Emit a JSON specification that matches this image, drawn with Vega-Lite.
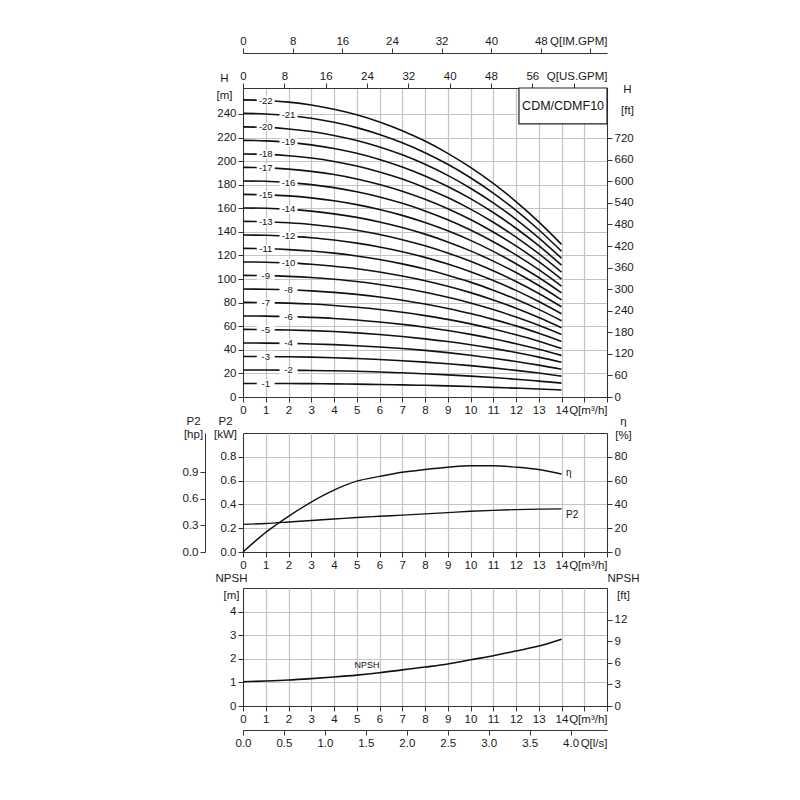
{
  "$schema": "https://vega.github.io/schema/vega-lite/v6.json",
  "padding": {"left": 181, "top": 34, "right": 5, "bottom": 5},
  "background": "white",
  "datasets": {
    "curves": [
      {"Q":0,"s1":11.5,"s2":22.9,"s3":34.4,"s4":45.8,"s5":57.3,"s6":68.7,"s7":80.2,"s8":91.6,"s9":103.1,"s10":114.5,"s11":126.0,"s12":137.4,"s13":148.9,"s14":160.3,"s15":171.8,"s16":183.2,"s17":194.7,"s18":206.1,"s19":217.6,"s20":229.0,"s21":240.5,"s22":251.9},
      {"Q":1,"s1":11.4,"s2":22.9,"s3":34.3,"s4":45.7,"s5":57.1,"s6":68.6,"s7":80.0,"s8":91.4,"s9":102.9,"s10":114.3,"s11":125.7,"s12":137.1,"s13":148.6,"s14":160.0,"s15":171.4,"s16":182.9,"s17":194.3,"s18":205.7,"s19":217.2,"s20":228.6,"s21":240.0,"s22":251.4},
      {"Q":2,"s1":11.4,"s2":22.7,"s3":34.1,"s4":45.5,"s5":56.8,"s6":68.2,"s7":79.6,"s8":90.9,"s9":102.3,"s10":113.7,"s11":125.0,"s12":136.4,"s13":147.7,"s14":159.1,"s15":170.5,"s16":181.8,"s17":193.2,"s18":204.6,"s19":215.9,"s20":227.3,"s21":238.7,"s22":250.0},
      {"Q":3,"s1":11.3,"s2":22.5,"s3":33.8,"s4":45.0,"s5":56.3,"s6":67.5,"s7":78.8,"s8":90.0,"s9":101.3,"s10":112.5,"s11":123.8,"s12":135.0,"s13":146.3,"s14":157.6,"s15":168.8,"s16":180.1,"s17":191.3,"s18":202.6,"s19":213.8,"s20":225.1,"s21":236.3,"s22":247.6},
      {"Q":4,"s1":11.1,"s2":22.2,"s3":33.3,"s4":44.4,"s5":55.5,"s6":66.6,"s7":77.6,"s8":88.7,"s9":99.8,"s10":110.9,"s11":122.0,"s12":133.1,"s13":144.2,"s14":155.3,"s15":166.4,"s16":177.5,"s17":188.6,"s18":199.7,"s19":210.7,"s20":221.8,"s21":232.9,"s22":244.0},
      {"Q":5,"s1":10.9,"s2":21.8,"s3":32.6,"s4":43.5,"s5":54.4,"s6":65.3,"s7":76.1,"s8":87.0,"s9":97.9,"s10":108.8,"s11":119.6,"s12":130.5,"s13":141.4,"s14":152.3,"s15":163.1,"s16":174.0,"s17":184.9,"s18":195.8,"s19":206.6,"s20":217.5,"s21":228.4,"s22":239.3},
      {"Q":6,"s1":10.6,"s2":21.2,"s3":31.8,"s4":42.4,"s5":53.0,"s6":63.6,"s7":74.2,"s8":84.8,"s9":95.4,"s10":106.0,"s11":116.6,"s12":127.2,"s13":137.8,"s14":148.4,"s15":159.0,"s16":169.6,"s17":180.2,"s18":190.8,"s19":201.4,"s20":212.0,"s21":222.6,"s22":233.2},
      {"Q":7,"s1":10.3,"s2":20.5,"s3":30.8,"s4":41.1,"s5":51.3,"s6":61.6,"s7":71.8,"s8":82.1,"s9":92.4,"s10":102.6,"s11":112.9,"s12":123.2,"s13":133.4,"s14":143.7,"s15":154.0,"s16":164.2,"s17":174.5,"s18":184.8,"s19":195.0,"s20":205.3,"s21":215.5,"s22":225.8},
      {"Q":8,"s1":9.9,"s2":19.7,"s3":29.6,"s4":39.5,"s5":49.3,"s6":59.2,"s7":69.0,"s8":78.9,"s9":88.8,"s10":98.6,"s11":108.5,"s12":118.4,"s13":128.2,"s14":138.1,"s15":147.9,"s16":157.8,"s17":167.7,"s18":177.5,"s19":187.4,"s20":197.3,"s21":207.1,"s22":217.0},
      {"Q":9,"s1":9.4,"s2":18.8,"s3":28.2,"s4":37.6,"s5":47.0,"s6":56.4,"s7":65.8,"s8":75.1,"s9":84.5,"s10":93.9,"s11":103.3,"s12":112.7,"s13":122.1,"s14":131.5,"s15":140.9,"s16":150.3,"s17":159.7,"s18":169.1,"s19":178.5,"s20":187.9,"s21":197.3,"s22":206.6},
      {"Q":10,"s1":8.9,"s2":17.7,"s3":26.6,"s4":35.4,"s5":44.3,"s6":53.1,"s7":62.0,"s8":70.8,"s9":79.7,"s10":88.5,"s11":97.4,"s12":106.2,"s13":115.1,"s14":123.9,"s15":132.8,"s16":141.6,"s17":150.5,"s18":159.3,"s19":168.2,"s20":177.0,"s21":185.9,"s22":194.7},
      {"Q":11,"s1":8.2,"s2":16.5,"s3":24.7,"s4":32.9,"s5":41.2,"s6":49.4,"s7":57.6,"s8":65.8,"s9":74.1,"s10":82.3,"s11":90.5,"s12":98.8,"s13":107.0,"s14":115.2,"s15":123.5,"s16":131.7,"s17":139.9,"s18":148.2,"s19":156.4,"s20":164.6,"s21":172.9,"s22":181.1},
      {"Q":12,"s1":7.5,"s2":15.1,"s3":22.6,"s4":30.1,"s5":37.7,"s6":45.2,"s7":52.7,"s8":60.3,"s9":67.8,"s10":75.3,"s11":82.9,"s12":90.4,"s13":97.9,"s14":105.5,"s15":113.0,"s16":120.5,"s17":128.1,"s18":135.6,"s19":143.1,"s20":150.7,"s21":158.2,"s22":165.7},
      {"Q":13,"s1":6.8,"s2":13.5,"s3":20.3,"s4":27.0,"s5":33.8,"s6":40.5,"s7":47.3,"s8":54.0,"s9":60.8,"s10":67.5,"s11":74.3,"s12":81.0,"s13":87.8,"s14":94.5,"s15":101.3,"s16":108.0,"s17":114.8,"s18":121.5,"s19":128.3,"s20":135.0,"s21":141.8,"s22":148.5},
      {"Q":14,"s1":5.9,"s2":11.8,"s3":17.7,"s4":23.5,"s5":29.4,"s6":35.3,"s7":41.2,"s8":47.1,"s9":53.0,"s10":58.8,"s11":64.7,"s12":70.6,"s13":76.5,"s14":82.4,"s15":88.3,"s16":94.1,"s17":100.0,"s18":105.9,"s19":111.8,"s20":117.7,"s21":123.6,"s22":129.4}
    ],
    "labels": [
      {"t":"-22","Q":1,"H":251.4},{"t":"-21","Q":2,"H":238.7},{"t":"-20","Q":1,"H":228.6},{"t":"-19","Q":2,"H":215.9},
      {"t":"-18","Q":1,"H":205.7},{"t":"-17","Q":1,"H":194.3},{"t":"-16","Q":2,"H":181.8},{"t":"-15","Q":1,"H":171.4},
      {"t":"-14","Q":2,"H":159.1},{"t":"-13","Q":1,"H":148.6},{"t":"-12","Q":2,"H":136.4},{"t":"-11","Q":1,"H":125.7},
      {"t":"-10","Q":2,"H":113.7},{"t":"-9","Q":1,"H":102.9},{"t":"-8","Q":2,"H":90.9},{"t":"-7","Q":1,"H":80.0},
      {"t":"-6","Q":2,"H":68.2},{"t":"-5","Q":1,"H":57.1},{"t":"-4","Q":2,"H":45.5},{"t":"-3","Q":1,"H":34.3},
      {"t":"-2","Q":2,"H":22.7},{"t":"-1","Q":1,"H":11.4}
    ],
    "power": [
      {"Q":0,"P2":0.232,"eta":0},{"Q":1,"P2":0.24,"eta":16.5},{"Q":2,"P2":0.252,"eta":30},{"Q":3,"P2":0.265,"eta":42},
      {"Q":4,"P2":0.277,"eta":52},{"Q":5,"P2":0.29,"eta":59.5},{"Q":6,"P2":0.3,"eta":63.5},{"Q":7,"P2":0.31,"eta":67},
      {"Q":8,"P2":0.32,"eta":69.3},{"Q":9,"P2":0.331,"eta":71.2},{"Q":10,"P2":0.342,"eta":72.5},{"Q":11,"P2":0.35,"eta":72.5},
      {"Q":12,"P2":0.356,"eta":71.3},{"Q":13,"P2":0.36,"eta":69.3},{"Q":14,"P2":0.362,"eta":65.5}
    ],
    "npsh": [
      {"Q":0,"N":1.03},{"Q":1,"N":1.06},{"Q":2,"N":1.1},{"Q":3,"N":1.16},{"Q":4,"N":1.23},{"Q":5,"N":1.31},
      {"Q":6,"N":1.41},{"Q":7,"N":1.53},{"Q":8,"N":1.65},{"Q":9,"N":1.78},{"Q":10,"N":1.96},{"Q":11,"N":2.13},
      {"Q":12,"N":2.33},{"Q":13,"N":2.54},{"Q":14,"N":2.83}
    ],
    "box": [{"x1": 12.13, "x2": 16, "y1": 231.6, "y2": 262, "name": "CDM/CDMF10", "xm": 14.07, "ym": 246.8}],
    "zero": [{"a": 0, "b": 0}]
  },
  "vconcat": [
    {
      "width": 364,
      "height": 309,
      "resolve": {"scale": {"x": "independent", "y": "independent"}},
      "layer": [
        {
          "data": {"name": "curves"},
          "transform": [{"fold": ["s1","s2","s3","s4","s5","s6","s7","s8","s9","s10","s11","s12","s13","s14","s15","s16","s17","s18","s19","s20","s21","s22"], "as": ["stage", "H"]}],
          "mark": {"type": "line", "color": "#111", "strokeWidth": 1.6, "interpolate": "monotone"},
          "encoding": {
            "x": {"field": "Q", "type": "quantitative", "scale": {"domain": [0, 16], "nice": false},
              "axis": {"orient": "bottom", "values": [0,1,2,3,4,5,6,7,8,9,10,11,12,13,14,15,16], "grid": true,
                "labelExpr": "datum.value <= 14 ? datum.label : ''", "title": "Q[m³/h]", "titleX": 364, "titleAlign": "right", "titleY": 7, "titleBaseline": "top"}},
            "y": {"field": "H", "type": "quantitative", "scale": {"domain": [0, 262], "nice": false},
              "axis": {"orient": "left", "values": [0,20,40,60,80,100,120,140,160,180,200,220,240], "grid": true,
                "title": ["H", "[m]"], "titleAngle": 0, "titleX": -19, "titleY": -16, "titleAlign": "center", "titleBaseline": "top", "titleLineHeight": 17}},
            "detail": {"field": "stage", "type": "nominal"}
          }
        },
        {
          "data": {"name": "labels"},
          "mark": {"type": "point", "shape": "M-1,-0.45L1,-0.45L1,0.45L-1,0.45Z", "size": 324, "filled": true, "color": "white", "opacity": 1, "strokeWidth": 0},
          "encoding": {
            "x": {"field": "Q", "type": "quantitative", "scale": {"domain": [0, 16], "nice": false}, "axis": null},
            "y": {"field": "H", "type": "quantitative", "scale": {"domain": [0, 262], "nice": false}, "axis": null}
          }
        },
        {
          "data": {"name": "labels"},
          "mark": {"type": "text", "fontSize": 9.5, "color": "#111", "align": "center", "baseline": "middle"},
          "encoding": {
            "x": {"field": "Q", "type": "quantitative", "scale": {"domain": [0, 16], "nice": false}, "axis": null},
            "y": {"field": "H", "type": "quantitative", "scale": {"domain": [0, 262], "nice": false}, "axis": null},
            "text": {"field": "t", "type": "nominal"}
          }
        },
        {
          "data": {"name": "box"},
          "mark": {"type": "rect", "fill": "white", "stroke": "#222", "strokeWidth": 1.2},
          "encoding": {
            "x": {"field": "x1", "type": "quantitative", "scale": {"domain": [0, 16], "nice": false}, "axis": null},
            "x2": {"field": "x2"},
            "y": {"field": "y1", "type": "quantitative", "scale": {"domain": [0, 262], "nice": false}, "axis": null},
            "y2": {"field": "y2"}
          }
        },
        {
          "data": {"name": "box"},
          "mark": {"type": "text", "fontSize": 12.5, "color": "#111", "align": "center", "baseline": "middle"},
          "encoding": {
            "x": {"field": "xm", "type": "quantitative", "scale": {"domain": [0, 16], "nice": false}, "axis": null},
            "y": {"field": "ym", "type": "quantitative", "scale": {"domain": [0, 262], "nice": false}, "axis": null},
            "text": {"field": "name", "type": "nominal"}
          }
        },
        {
          "data": {"name": "zero"},
          "mark": {"type": "point", "opacity": 0},
          "encoding": {
            "x": {"field": "a", "type": "quantitative", "scale": {"domain": [0, 16], "nice": false}, "axis": null},
            "y": {"field": "b", "type": "quantitative", "scale": {"domain": [0, 859.6], "nice": false},
              "axis": {"orient": "right", "values": [0,60,120,180,240,300,360,420,480,540,600,660,720], "grid": false,
                "title": ["H", "[ft]"], "titleAngle": 0, "titleX": 20, "titleY": -5, "titleAlign": "center", "titleBaseline": "top", "titleLineHeight": 21}}
          }
        },
        {
          "data": {"name": "zero"},
          "mark": {"type": "point", "opacity": 0},
          "encoding": {
            "x": {"field": "a", "type": "quantitative", "scale": {"domain": [0, 70.45], "nice": false},
              "axis": {"orient": "top", "values": [0,8,16,24,32,40,48,56,64], "grid": false,
                "labelExpr": "datum.value <= 56 ? datum.label : ''", "title": "Q[US.GPM]", "titleX": 364, "titleAlign": "right", "titleY": -7, "titleBaseline": "bottom"}},
            "y": {"field": "b", "type": "quantitative", "scale": {"domain": [0, 262], "nice": false}, "axis": null}
          }
        },
        {
          "data": {"name": "zero"},
          "mark": {"type": "point", "opacity": 0},
          "encoding": {
            "x": {"field": "a", "type": "quantitative", "scale": {"domain": [0, 58.66], "nice": false},
              "axis": {"orient": "top", "offset": 35, "values": [0,8,16,24,32,40,48,56], "grid": false,
                "labelExpr": "datum.value <= 48 ? datum.label : ''", "title": "Q[IM.GPM]", "titleX": 364, "titleAlign": "right", "titleY": -7, "titleBaseline": "bottom"}},
            "y": {"field": "b", "type": "quantitative", "scale": {"domain": [0, 262], "nice": false}, "axis": null}
          }
        }
      ]
    },
    {
      "width": 364,
      "height": 119,
      "resolve": {"scale": {"x": "independent", "y": "independent"}},
      "layer": [
        {
          "data": {"name": "power"},
          "mark": {"type": "line", "color": "#111", "strokeWidth": 1.4, "interpolate": "monotone"},
          "encoding": {
            "x": {"field": "Q", "type": "quantitative", "scale": {"domain": [0, 16], "nice": false},
              "axis": {"orient": "bottom", "values": [0,1,2,3,4,5,6,7,8,9,10,11,12,13,14,15,16], "grid": true,
                "labelExpr": "datum.value <= 14 ? datum.label : ''", "title": "Q[m³/h]", "titleX": 364, "titleAlign": "right", "titleY": 7, "titleBaseline": "top"}},
            "y": {"field": "P2", "type": "quantitative", "scale": {"domain": [0, 1], "nice": false},
              "axis": {"orient": "left", "values": [0, 0.2, 0.4, 0.6, 0.8], "format": ".1f", "grid": true,
                "title": ["P2", "[kW]"], "titleAngle": 0, "titleX": -18, "titleY": -18, "titleAlign": "center", "titleBaseline": "top", "titleLineHeight": 13}}
          }
        },
        {
          "data": {"name": "power"},
          "mark": {"type": "line", "color": "#111", "strokeWidth": 1.4, "interpolate": "monotone"},
          "encoding": {
            "x": {"field": "Q", "type": "quantitative", "scale": {"domain": [0, 16], "nice": false}, "axis": null},
            "y": {"field": "eta", "type": "quantitative", "scale": {"domain": [0, 100], "nice": false},
              "axis": {"orient": "right", "values": [0, 20, 40, 60, 80], "grid": false,
                "title": ["η", "[%]"], "titleAngle": 0, "titleX": 16, "titleY": -18, "titleAlign": "center", "titleBaseline": "top", "titleLineHeight": 14}}
          }
        },
        {
          "data": {"values": [{"Q": 14.2, "v": 66.5, "t": "η"}]},
          "mark": {"type": "text", "fontSize": 10, "color": "#111", "align": "left", "baseline": "middle"},
          "encoding": {
            "x": {"field": "Q", "type": "quantitative", "scale": {"domain": [0, 16], "nice": false}, "axis": null},
            "y": {"field": "v", "type": "quantitative", "scale": {"domain": [0, 100], "nice": false}, "axis": null},
            "text": {"field": "t", "type": "nominal"}
          }
        },
        {
          "data": {"values": [{"Q": 14.2, "v": 0.31, "t": "P2"}]},
          "mark": {"type": "text", "fontSize": 10, "color": "#111", "align": "left", "baseline": "middle"},
          "encoding": {
            "x": {"field": "Q", "type": "quantitative", "scale": {"domain": [0, 16], "nice": false}, "axis": null},
            "y": {"field": "v", "type": "quantitative", "scale": {"domain": [0, 1], "nice": false}, "axis": null},
            "text": {"field": "t", "type": "nominal"}
          }
        },
        {
          "data": {"name": "zero"},
          "mark": {"type": "point", "opacity": 0},
          "encoding": {
            "x": {"field": "a", "type": "quantitative", "scale": {"domain": [0, 16], "nice": false}, "axis": null},
            "y": {"field": "b", "type": "quantitative", "scale": {"domain": [0, 1.341], "nice": false},
              "axis": {"orient": "left", "offset": 38, "values": [0, 0.3, 0.6, 0.9], "format": ".1f", "grid": false,
                "title": ["P2", "[hp]"], "titleAngle": 0, "titleX": -12, "titleY": -18, "titleAlign": "center", "titleBaseline": "top", "titleLineHeight": 13}}
          }
        }
      ]
    },
    {
      "width": 364,
      "height": 118,
      "resolve": {"scale": {"x": "independent", "y": "independent"}},
      "layer": [
        {
          "data": {"name": "npsh"},
          "mark": {"type": "line", "color": "#111", "strokeWidth": 1.6, "interpolate": "monotone"},
          "encoding": {
            "x": {"field": "Q", "type": "quantitative", "scale": {"domain": [0, 16], "nice": false},
              "axis": {"orient": "bottom", "values": [0,1,2,3,4,5,6,7,8,9,10,11,12,13,14,15,16], "grid": true,
                "labelExpr": "datum.value <= 14 ? datum.label : ''", "title": "Q[m³/h]", "titleX": 364, "titleAlign": "right", "titleY": 7, "titleBaseline": "top"}},
            "y": {"field": "N", "type": "quantitative", "scale": {"domain": [0, 5], "nice": false},
              "axis": {"orient": "left", "values": [0, 1, 2, 3, 4], "grid": true,
                "title": ["NPSH", "[m]"], "titleAngle": 0, "titleX": -12, "titleY": -16, "titleAlign": "center", "titleBaseline": "top", "titleLineHeight": 17}}
          }
        },
        {
          "data": {"values": [{"Q": 5.45, "v": 1.75, "t": "NPSH"}]},
          "mark": {"type": "text", "fontSize": 9, "color": "#111", "align": "center", "baseline": "middle"},
          "encoding": {
            "x": {"field": "Q", "type": "quantitative", "scale": {"domain": [0, 16], "nice": false}, "axis": null},
            "y": {"field": "v", "type": "quantitative", "scale": {"domain": [0, 5], "nice": false}, "axis": null},
            "text": {"field": "t", "type": "nominal"}
          }
        },
        {
          "data": {"name": "zero"},
          "mark": {"type": "point", "opacity": 0},
          "encoding": {
            "x": {"field": "a", "type": "quantitative", "scale": {"domain": [0, 16], "nice": false}, "axis": null},
            "y": {"field": "b", "type": "quantitative", "scale": {"domain": [0, 16.404], "nice": false},
              "axis": {"orient": "right", "values": [0, 3, 6, 9, 12], "grid": false,
                "title": ["NPSH", "[ft]"], "titleAngle": 0, "titleX": 16, "titleY": -16, "titleAlign": "center", "titleBaseline": "top", "titleLineHeight": 17}}
          }
        },
        {
          "data": {"name": "zero"},
          "mark": {"type": "point", "opacity": 0},
          "encoding": {
            "x": {"field": "a", "type": "quantitative", "scale": {"domain": [0, 4.4444], "nice": false},
              "axis": {"orient": "bottom", "offset": 24, "values": [0, 0.5, 1, 1.5, 2, 2.5, 3, 3.5, 4], "format": ".1f", "grid": false,
                "title": "Q[l/s]", "titleX": 364, "titleAlign": "right", "titleY": 7, "titleBaseline": "top"}},
            "y": {"field": "b", "type": "quantitative", "scale": {"domain": [0, 5], "nice": false}, "axis": null}
          }
        }
      ]
    }
  ],
  "spacing": 36,
  "bounds": "flush",
  "config": {
    "font": "Liberation Sans",
    "view": {"stroke": "#333", "strokeWidth": 1},
    "axis": {
      "labelFontSize": 11.5, "titleFontSize": 11.5, "titleFontWeight": "normal",
      "labelColor": "#1a1a1a", "titleColor": "#1a1a1a",
      "domainColor": "#333", "tickColor": "#333", "domainWidth": 1, "tickWidth": 1,
      "gridColor": "#c4c4c4", "gridWidth": 1.2, "tickSize": 5, "labelPadding": 2,
      "labelOverlap": false, "labelFlush": false, "titlePadding": 0
    }
  }
}
